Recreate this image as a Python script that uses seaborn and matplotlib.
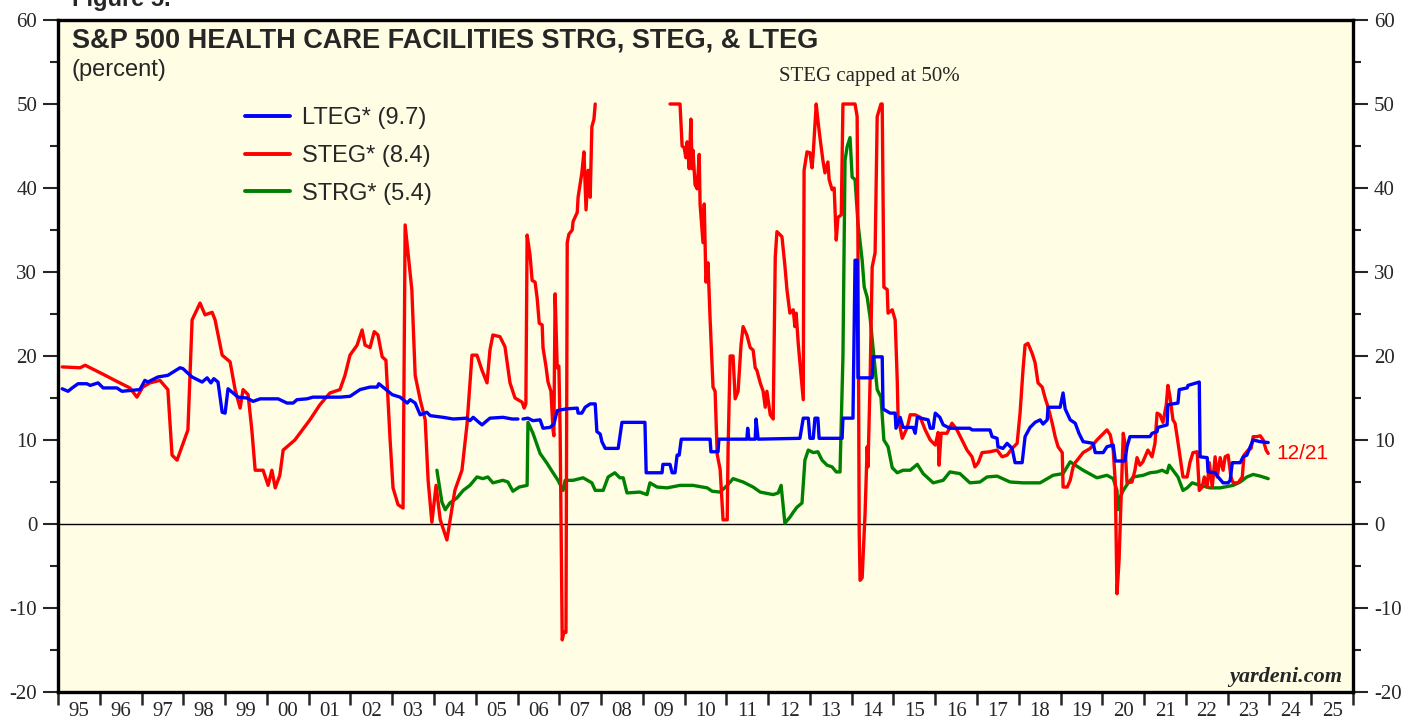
import numpy as np
import pandas as pd
import matplotlib
matplotlib.use("Agg")
import matplotlib.pyplot as plt
from matplotlib.lines import Line2D
from matplotlib.ticker import FixedLocator, FuncFormatter, NullFormatter
import seaborn as sns

#%% data (percent; nan = break in the line)

lteg_t = [1995.10, 1995.24, 1995.34, 1995.48, 1995.69, 1995.77, 1995.96, 1996.08, 1996.41, 1996.53,
          1996.96, 1997.08, 1997.15, 1997.39, 1997.63, 1997.92, 1997.99, 1998.21, 1998.45, 1998.57,
          1998.66, 1998.73, 1998.83, 1998.93, 1999.00, 1999.07, 1999.19, 1999.31, 1999.52, 1999.67,
          1999.84, 2000.27, 2000.48, 2000.63, 2000.72, 2000.96, 2001.10, 2001.75, 2001.99, 2002.23,
          2002.47, 2002.64, 2002.68, 2002.78, 2003.00, 2003.19, 2003.36, 2003.43, 2003.55, 2003.67,
          2003.83, 2003.91, 2004.22, 2004.46, 2004.79, 2004.86, 2004.94, 2005.03, 2005.15, 2005.34,
          2005.65, 2005.87, 2006.01, 2006.05, 2006.13, 2006.25, 2006.37, 2006.54, 2006.61, 2006.78,
          2006.87, 2006.95, 2007.16, 2007.43, 2007.45, 2007.54, 2007.62, 2007.74, 2007.86, 2007.90,
          2007.98, 2008.02, 2008.10, 2008.41, 2008.50, 2009.05, 2009.08, 2009.46, 2009.48, 2009.65,
          2009.70, 2009.77, 2009.82, 2009.87, 2009.92, 2010.61, 2010.63, 2010.80, 2010.82, 2011.49,
          2011.51, 2011.54, 2011.69, 2011.71, 2011.76, 2012.76, 2012.84, 2012.96, 2013.00, 2013.08,
          2013.12, 2013.19, 2013.22, 2013.77, 2013.79, 2014.03, 2014.08, 2014.13, 2014.15, 2014.49,
          2014.51, 2014.73, 2014.75, 2014.92, 2015.04, 2015.06, 2015.16, 2015.23, 2015.47, 2015.52,
          2015.57, 2015.83, 2015.88, 2015.95, 2016.00, 2016.11, 2016.19, 2016.35, 2016.83, 2016.88,
          2017.31, 2017.36, 2017.48, 2017.50, 2017.62, 2017.72, 2017.84, 2017.91, 2018.08, 2018.15,
          2018.27, 2018.39, 2018.51, 2018.58, 2018.68, 2018.70, 2018.99, 2019.06, 2019.11, 2019.23,
          2019.35, 2019.44, 2019.54, 2019.78, 2019.83, 2020.02, 2020.11, 2020.26, 2020.31, 2020.54,
          2020.59, 2020.66, 2021.14, 2021.19, 2021.31, 2021.33, 2021.55, 2021.57, 2021.81, 2021.84,
          2022.03, 2022.05, 2022.32, 2022.34, 2022.51, 2022.53, 2022.70, 2022.77, 2022.89, 2023.01,
          2023.06, 2023.11, 2023.30, 2023.37, 2023.46, 2023.54, 2023.61, 2023.78, 2023.97]
lteg_v = [16.1, 15.8, 16.2, 16.7, 16.7, 16.5, 16.8, 16.2, 16.2, 15.8,
          16.0, 17.1, 16.9, 17.5, 17.7, 18.6, 18.5, 17.5, 16.9, 17.4,
          16.8, 17.3, 16.9, 13.3, 13.2, 16.1, 15.6, 15.1, 15.0, 14.6,
          14.9, 14.9, 14.4, 14.4, 14.8, 14.9, 15.1, 15.1, 15.2, 16.0,
          16.3, 16.3, 16.7, 16.3, 15.4, 15.1, 14.4, 14.8, 14.4, 13.0,
          13.3, 12.9, 12.7, 12.5, 12.6, 12.3, 12.7, 12.3, 11.8, 12.6,
          12.7, 12.5, 12.5, np.nan, 12.5, 12.6, 12.3, 12.4, 11.4, 11.5,
          11.9, 13.5, 13.7, 13.8, 13.2, 13.2, 13.9, 14.3, 14.3, 11.0,
          10.7, 9.8, 9.0, 9.0, 12.1, 12.1, 6.1, 6.1, 7.1, 7.1,
          6.1, 6.1, 8.2, 8.2, 10.1, 10.1, 8.6, 8.6, 10.1, 10.1,
          11.4, 10.1, 10.1, 12.5, 10.1, 10.2, 12.6, 12.6, 10.2, 10.2,
          12.6, 12.6, 10.2, 10.2, 12.6, 12.6, 31.4, 31.4, 17.4, 17.4,
          19.9, 19.9, 13.7, 13.2, 13.2, 11.4, 12.7, 11.5, 11.5, 10.8,
          12.7, 12.4, 11.4, 11.4, 13.2, 12.7, 11.8, 11.4, 11.4, 11.2,
          11.2, 10.4, 10.2, 9.2, 9.0, 9.6, 9.0, 7.3, 7.3, 10.4,
          11.5, 12.1, 12.4, 11.9, 12.4, 13.9, 13.9, 15.6, 13.7, 12.4,
          12.0, 10.8, 9.8, 9.6, 8.5, 8.5, 9.2, 9.4, 7.5, 7.5,
          9.2, 10.4, 10.4, 10.8, 11.0, 11.5, 11.8, 14.2, 14.4, 16.0,
          16.2, 16.5, 16.9, 8.0, 7.9, 6.2, 6.1, 5.6, 4.9, 4.9,
          5.2, 7.3, 7.3, 8.0, 8.2, 9.2, 10.0, 9.8, 9.7]

steg_t = [1995.10, 1995.53, 1995.65, 1995.89, 1996.13, 1996.36, 1996.72, 1996.89, 1997.03, 1997.20,
          1997.44, 1997.63, 1997.73, 1997.85, 1998.11, 1998.21, 1998.40, 1998.52, 1998.69, 1998.76,
          1998.93, 1999.12, 1999.24, 1999.36, 1999.43, 1999.55, 1999.64, 1999.72, 1999.91, 2000.03,
          2000.12, 2000.20, 2000.31, 2000.39, 2000.67, 2001.03, 2001.27, 2001.51, 2001.75, 2001.87,
          2001.99, 2002.16, 2002.28, 2002.35, 2002.47, 2002.57, 2002.66, 2002.76, 2002.85, 2002.95,
          2003.02, 2003.14, 2003.26, 2003.31, 2003.47, 2003.55, 2003.67, 2003.79, 2003.86, 2003.95,
          2004.05, 2004.15, 2004.31, 2004.50, 2004.67, 2004.79, 2004.91, 2005.03, 2005.15, 2005.27,
          2005.34, 2005.41, 2005.58, 2005.70, 2005.82, 2005.94, 2006.11, 2006.16, 2006.20, 2006.23,
          2006.30, 2006.35, 2006.42, 2006.47, 2006.52, 2006.59, 2006.61, 2006.68, 2006.73, 2006.80,
          2006.85, 2006.87, 2006.90, 2006.95, 2006.99, 2007.02, 2007.07, 2007.11, 2007.16, 2007.19,
          2007.23, 2007.31, 2007.33, 2007.43, 2007.45, 2007.54, 2007.59, 2007.64, 2007.69, 2007.74,
          2007.78, 2007.83, 2007.86, 2008.50, 2009.65, 2009.89, 2009.94, 2009.99, 2010.03, 2010.06,
          2010.11, 2010.15, 2010.18, 2010.20, 2010.25, 2010.30, 2010.35, 2010.37, 2010.44, 2010.47,
          2010.51, 2010.56, 2010.61, 2010.68, 2010.73, 2010.78, 2010.85, 2010.92, 2011.02, 2011.04,
          2011.09, 2011.16, 2011.21, 2011.28, 2011.35, 2011.40, 2011.49, 2011.57, 2011.64, 2011.69,
          2011.73, 2011.81, 2011.88, 2011.93, 2011.97, 2012.05, 2012.12, 2012.17, 2012.21, 2012.33,
          2012.40, 2012.45, 2012.52, 2012.60, 2012.64, 2012.67, 2012.72, 2012.76, 2012.84, 2012.86,
          2012.93, 2013.00, 2013.05, 2013.08, 2013.15, 2013.19, 2013.24, 2013.31, 2013.36, 2013.43,
          2013.46, 2013.53, 2013.58, 2013.63, 2013.67, 2013.75, 2013.79, 2014.08, 2014.13, 2014.15,
          2014.18, 2014.20, 2014.25, 2014.32, 2014.37, 2014.39, 2014.44, 2014.49, 2014.56, 2014.61,
          2014.70, 2014.73, 2014.77, 2014.85, 2014.87, 2014.97, 2015.04, 2015.09, 2015.11, 2015.21,
          2015.33, 2015.40, 2015.52, 2015.64, 2015.76, 2015.88, 2016.00, 2016.07, 2016.09, 2016.14,
          2016.28, 2016.40, 2016.52, 2016.64, 2016.76, 2016.88, 2016.95, 2017.03, 2017.12, 2017.31,
          2017.48, 2017.60, 2017.72, 2017.84, 2017.96, 2018.03, 2018.10, 2018.15, 2018.22, 2018.32,
          2018.39, 2018.46, 2018.56, 2018.63, 2018.70, 2018.80, 2018.87, 2018.94, 2019.04, 2019.06,
          2019.16, 2019.23, 2019.30, 2019.35, 2019.54, 2019.71, 2019.87, 2019.99, 2020.11, 2020.19,
          2020.26, 2020.31, 2020.35, 2020.40, 2020.47, 2020.50, 2020.54, 2020.59, 2020.71, 2020.78,
          2020.83, 2020.90, 2020.97, 2021.09, 2021.19, 2021.26, 2021.31, 2021.38, 2021.45, 2021.53,
          2021.57, 2021.62, 2021.69, 2021.74, 2021.79, 2021.86, 2021.93, 2022.03, 2022.10, 2022.17,
          2022.27, 2022.32, 2022.39, 2022.44, 2022.51, 2022.56, 2022.63, 2022.70, 2022.75, 2022.82,
          2022.89, 2022.94, 2023.01, 2023.08, 2023.13, 2023.25, 2023.35, 2023.39, 2023.49, 2023.56,
          2023.61, 2023.70, 2023.78, 2023.85, 2023.92, 2023.97]
steg_v = [18.7, 18.6, 18.9, 18.3, 17.7, 17.1, 16.2, 15.1, 16.3, 16.8,
          17.1, 16.0, 8.2, 7.6, 11.2, 24.3, 26.3, 24.9, 25.2, 24.3,
          20.1, 19.3, 16.0, 13.8, 16.0, 15.4, 11.2, 6.4, 6.4, 4.6,
          6.4, 4.3, 5.8, 8.8, 10.0, 12.4, 14.2, 15.6, 16.0, 17.7,
          20.1, 21.3, 23.1, 21.3, 21.0, 22.9, 22.5, 19.9, 19.5, 10.0,
          4.3, 2.3, 1.9, 35.6, 27.9, 17.7, 14.8, 12.4, 5.2, 0.2,
          4.6, 0.5, -1.9, 4.0, 6.4, 11.8, 20.1, 20.1, 18.3, 16.8,
          20.7, 22.5, 22.3, 21.1, 16.8, 15.0, 14.5, 13.8, 14.3, 34.4,
          32.0, 29.0, 28.8, 26.9, 23.9, 23.7, 21.0, 18.8, 16.9, 15.8,
          11.2, 10.5, 27.4, 18.6, 18.8, 11.2, -13.8, -12.9, -12.9, 33.5,
          34.5, 35.0, 36.0, 37.1, 38.9, 41.8, 44.3, 37.4, 42.1, 38.9,
          47.3, 48.2, 50.0, np.nan, 50.0, 50.0, 45.0, 44.8, 43.6, 45.5,
          42.3, 48.2, 42.3, 44.5, 40.4, 39.9, 44.0, 38.1, 33.5, 38.1,
          28.8, 31.1, 24.4, 16.3, 15.8, 8.3, 6.5, 0.5, 0.5, 8.8,
          20.0, 20.0, 14.9, 15.8, 21.3, 23.5, 22.5, 21.0, 20.7, 18.6,
          18.3, 16.8, 15.8, 13.9, 15.8, 13.0, 12.5, 31.8, 34.8, 34.2,
          30.8, 27.9, 25.1, 25.5, 23.5, 25.1, 21.5, 19.2, 14.8, 42.1,
          44.3, 44.2, 42.4, 44.2, 50.0, 48.1, 46.0, 43.3, 41.8, 43.1,
          41.0, 39.8, 40.0, 33.8, 36.5, 36.8, 50.0, 50.0, 48.5, 33.0,
          -1.1, -6.7, -6.4, 1.3, 9.2, 6.8, 17.1, 30.6, 32.3, 48.5,
          50.0, 50.0, 28.2, 27.9, 25.1, 25.5, 24.3, 17.1, 12.7, 10.2,
          11.5, 13.0, 13.0, 12.7, 11.2, 10.0, 9.4, 10.9, 7.0, 10.8,
          10.8, 12.0, 11.2, 10.0, 8.8, 8.0, 6.8, 7.3, 8.5, 8.6,
          8.8, 8.0, 8.2, 9.0, 9.6, 13.2, 18.3, 21.3, 21.5, 20.3,
          19.2, 16.8, 16.3, 15.0, 13.9, 12.0, 10.4, 9.2, 8.5, 4.4,
          4.4, 5.2, 6.8, 7.3, 8.5, 9.0, 10.0, 10.6, 11.2, 10.6,
          8.8, 4.9, -8.3, -4.3, 6.4, 10.8, 9.6, 4.9, 5.0, 6.4,
          7.9, 7.0, 7.4, 8.8, 8.0, 9.6, 13.2, 13.0, 12.1, 14.2,
          16.5, 15.1, 12.4, 12.0, 10.4, 8.0, 5.6, 5.6, 7.4, 8.5,
          8.6, 4.0, 4.4, 5.6, 4.4, 7.3, 4.4, 8.0, 5.6, 7.9,
          6.4, 8.0, 8.2, 5.6, 4.9, 4.9, 5.6, 8.2, 8.8, 9.0,
          10.4, 10.4, 10.5, 10.0, 8.8, 8.4]

strg_t = [2004.07, 2004.19, 2004.27, 2004.38, 2004.55, 2004.70, 2004.86, 2005.03, 2005.17, 2005.29,
          2005.41, 2005.65, 2005.77, 2005.89, 2006.04, 2006.23, 2006.25, 2006.37, 2006.54, 2006.71,
          2006.85, 2006.97, 2007.09, 2007.14, 2007.33, 2007.57, 2007.78, 2007.86, 2008.05, 2008.17,
          2008.33, 2008.45, 2008.53, 2008.62, 2008.93, 2009.10, 2009.17, 2009.34, 2009.58, 2009.89,
          2010.20, 2010.54, 2010.66, 2010.85, 2011.02, 2011.16, 2011.40, 2011.64, 2011.81, 2012.12,
          2012.24, 2012.31, 2012.40, 2012.52, 2012.60, 2012.69, 2012.81, 2012.88, 2012.96, 2013.08,
          2013.19, 2013.29, 2013.41, 2013.53, 2013.63, 2013.72, 2013.79, 2013.84, 2013.89, 2013.96,
          2014.01, 2014.08, 2014.15, 2014.25, 2014.30, 2014.37, 2014.44, 2014.51, 2014.61, 2014.70,
          2014.77, 2014.87, 2014.97, 2015.09, 2015.23, 2015.40, 2015.57, 2015.71, 2015.95, 2016.19,
          2016.35, 2016.59, 2016.83, 2017.07, 2017.24, 2017.48, 2017.79, 2018.10, 2018.51, 2018.82,
          2019.06, 2019.23, 2019.54, 2019.87, 2020.11, 2020.26, 2020.35, 2020.37, 2020.42, 2020.50,
          2020.62, 2020.74, 2020.98, 2021.14, 2021.31, 2021.43, 2021.55, 2021.60, 2021.69, 2021.81,
          2021.93, 2022.03, 2022.15, 2022.34, 2022.58, 2022.82, 2023.13, 2023.30, 2023.46, 2023.61,
          2023.78, 2023.97]
strg_v = [6.4, 2.6, 1.7, 2.5, 3.1, 4.0, 4.6, 5.6, 5.4, 5.6,
          4.9, 5.2, 5.0, 3.9, 4.4, 4.6, 12.1, 10.8, 8.4, 7.2,
          6.1, 5.2, 4.0, 5.2, 5.2, 5.5, 4.9, 4.0, 4.0, 5.6,
          6.1, 5.5, 5.5, 3.7, 3.8, 3.5, 4.9, 4.4, 4.3, 4.6,
          4.6, 4.3, 3.9, 3.8, 4.6, 5.4, 5.0, 4.4, 3.8, 3.5,
          3.7, 4.6, 0.1, 0.8, 1.4, 2.0, 2.5, 7.6, 8.8, 8.5,
          8.6, 7.6, 7.0, 6.8, 6.2, 6.2, 19.9, 43.3, 44.9, 46.0,
          41.3, 41.0, 35.8, 31.4, 28.2, 27.0, 24.6, 21.0, 16.0, 15.1,
          10.0, 9.2, 6.7, 6.1, 6.4, 6.4, 7.1, 6.0, 4.9, 5.2,
          6.2, 6.0, 4.9, 5.0, 5.6, 5.7, 5.0, 4.9, 4.9, 5.8,
          6.0, 7.4, 6.4, 5.5, 5.8, 5.4, 4.0, 1.7, 3.1, 4.0,
          4.9, 5.6, 5.8, 6.1, 6.2, 6.4, 6.1, 7.0, 6.4, 5.6,
          4.0, 4.3, 4.9, 4.6, 4.3, 4.3, 4.6, 5.0, 5.6, 5.9,
          5.7, 5.4]

labels = ["LTEG* (9.7)", "STEG* (8.4)", "STRG* (5.4)"]
colors = ["#0000ff", "#ff0000", "#008000"]
zorders = [5, 4, 3]
years = list(range(1995, 2027))
year_labels = [str(y)[-2:] for y in range(1995, 2026)]


def to_frame(t, v, name):
    df = pd.DataFrame({"year": t, "value": v})
    df["seg"] = df["value"].isna().cumsum()
    df = df.dropna()
    df["series"] = name
    return df


#%% plot

sns.set_style("ticks")
plt.rcParams["font.family"] = ["Liberation Sans", "DejaVu Sans"]
plt.rcParams["axes.unicode_minus"] = False

fig = plt.figure(figsize=(14.06, 7.19), dpi=100)
ax = fig.add_axes([58 / 1406, 27 / 719, 1295 / 1406, 672 / 719])
ax.set_facecolor("#fffde3")

ax.axhline(0, color="black", lw=1.0, zorder=1)

series = [(lteg_t, lteg_v), (steg_t, steg_v), (strg_t, strg_v)]
for (t, v), lab, col, z in zip(series, labels, colors, zorders):
    sns.lineplot(data=to_frame(t, v, lab), x="year", y="value", units="seg", estimator=None,
                 color=col, lw=2.4, ax=ax, zorder=z)

ax.set_xlim(1995, 2026)
ax.set_ylim(-20, 60)
ax.set_xlabel("")
ax.set_ylabel("")

ax.xaxis.set_major_locator(FixedLocator(years))
ax.xaxis.set_major_formatter(NullFormatter())
ax.xaxis.set_minor_locator(FixedLocator([y + 0.5 for y in range(1995, 2026)]))
ax.xaxis.set_minor_formatter(FuncFormatter(lambda x, pos: year_labels[int(x - 1995)]))
ax.tick_params(axis="x", which="major", direction="out", length=9, width=1.8, bottom=True)
ax.tick_params(axis="x", which="minor", length=0, pad=7, labelsize=15)

ax.set_yticks(range(-20, 61, 10))
ax.set_yticks(range(-15, 60, 10), minor=True)
ax.tick_params(axis="y", which="both", direction="out", left=True, right=True,
               labelleft=True, labelright=True, width=1.5)
ax.tick_params(axis="y", which="major", length=11, pad=4, labelsize=15)
ax.tick_params(axis="y", which="minor", length=6)

for lab in ax.get_xticklabels(minor=True) + ax.get_yticklabels():
    lab.set_fontfamily("Liberation Serif")

for sp in ax.spines.values():
    sp.set_visible(True)
    sp.set_linewidth(2.4)
    sp.set_color("black")

ax.text(0.0108, 0.970, "S&P 500 HEALTH CARE FACILITIES STRG, STEG, & LTEG", transform=ax.transAxes,
        fontsize=19.5, fontweight="bold", va="center", ha="left")
ax.text(0.0108, 0.926, "(percent)", transform=ax.transAxes, fontsize=17, va="center", ha="left")
ax.text(0.6263, 0.9152, "STEG capped at 50%", transform=ax.transAxes, fontsize=15,
        family="Liberation Serif", va="center", ha="center")
ax.text(0.9915, 0.0223, "yardeni.com", transform=ax.transAxes, fontsize=16,
        family="Liberation Serif", fontweight="bold", style="italic", va="center", ha="right")
ax.text(2024.16, 8.4, "12/21", color="#ff0000", fontsize=15, va="center", ha="left")
fig.text(72 / 1406, 1 - 6 / 719, "Figure 5.", fontsize=17, fontweight="bold", va="baseline", ha="left")

handles = [Line2D([], [], color=c, lw=2.8) for c in colors]
ax.legend(handles, labels, loc="upper left", bbox_to_anchor=(0.1444, 0.870),
          frameon=False, fontsize=17, handlelength=1.9, handletextpad=0.5,
          labelspacing=0.66, borderpad=0, borderaxespad=0)

fig.savefig("out.png", dpi=100, facecolor="white")
